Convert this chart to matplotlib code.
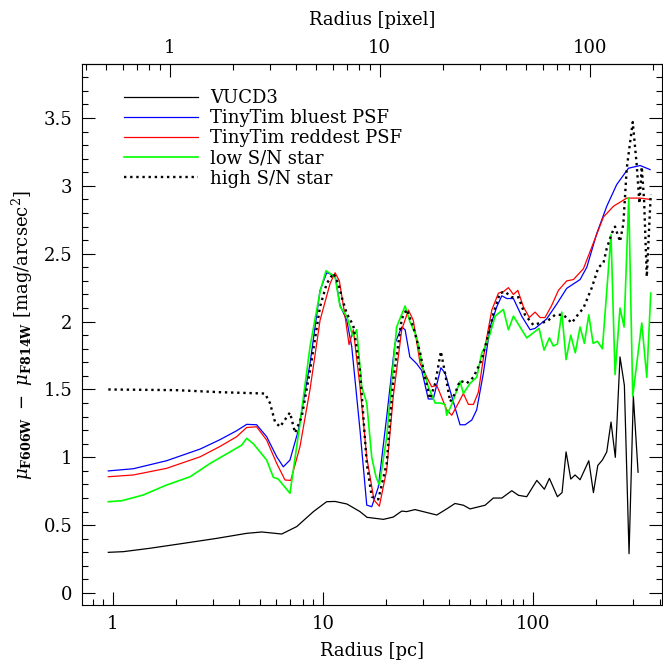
import matplotlib
matplotlib.use("Agg")
import matplotlib.pyplot as plt
from matplotlib.ticker import LogLocator, MultipleLocator, NullFormatter, FixedLocator, FixedFormatter

plt.rcParams['font.family'] = ['DejaVu Serif']
plt.rcParams['mathtext.fontset'] = 'dejavuserif'

PC_PER_PIXEL = 1.86  # scale of the top axis

# radius [pc], colour [mag/arcsec^2]
vucd3_r = [0.95, 1.12, 1.5, 2.16, 3.12, 4.33, 5.11, 6.36, 7.5, 9.0, 10.4, 11.4, 13.0, 15.0, 16.2,
           19.4, 21.6, 23.7, 25.0, 27.4, 30.0, 34.8, 38.8, 42.5, 46.6, 50.1, 59.1, 64.7, 71.0, 79.2,
           85.2, 93.3, 104.2, 113.2, 119.6, 130.6, 137.4, 143.6, 151.2, 158.5, 167.4, 184.2, 193.8,
           203.3, 213.8, 224.3, 235.0, 246.4, 259.4, 272.1, 286.4, 300.2, 316.2]
vucd3_c = [0.30, 0.305, 0.33, 0.366, 0.403, 0.44, 0.45, 0.435, 0.49, 0.60, 0.673, 0.675, 0.656, 0.60, 0.558,
           0.543, 0.56, 0.604, 0.60, 0.615, 0.60, 0.575, 0.62, 0.66, 0.647, 0.62, 0.647, 0.70, 0.70, 0.754,
           0.72, 0.71, 0.83, 0.765, 0.845, 0.71, 0.74, 1.04, 0.84, 0.87, 0.835, 0.975, 0.74,
           0.94, 0.98, 1.04, 1.26, 1.00, 1.74, 1.53, 0.29, 1.45, 0.89]

blue_r = [0.95, 1.25, 1.80, 2.60, 3.23, 3.88, 4.33, 4.83, 5.39, 6.02, 6.47, 6.96, 7.63, 8.67, 9.68,
          10.41, 11.41, 12.05, 12.97, 13.70, 15.0, 16.15, 17.06, 18.33, 20.1, 22.0, 23.7, 24.6, 25.9,
          27.9, 29.5, 31.7, 33.5, 36.4, 38.1, 41.0, 44.9, 47.5, 51.1, 53.9, 58.0, 62.4, 67.2, 71.0,
          75.0, 80.6, 88.3, 96.8, 102.2, 116.1, 129.7, 144.6, 167.4, 180.2, 201.1, 224.3, 250.2,
          284.5, 323.3, 360.7]
blue_c = [0.90, 0.916, 0.975, 1.061, 1.13, 1.196, 1.243, 1.24, 1.152, 1.004, 0.93, 0.98, 1.20, 1.69, 2.23,
          2.36, 2.34, 2.12, 2.01, 1.815, 1.20, 0.648, 0.636, 0.78, 1.30, 1.84, 1.96, 1.94, 1.74,
          1.69, 1.64, 1.43, 1.43, 1.66, 1.62, 1.45, 1.24, 1.24, 1.275, 1.35, 1.62, 1.96, 2.11, 2.19,
          2.17, 2.17, 2.04, 1.94, 1.95, 2.02, 2.13, 2.245, 2.31, 2.40, 2.65, 2.85, 3.01,
          3.13, 3.15, 3.12]

red_r = [0.95, 1.25, 1.80, 2.60, 3.23, 3.88, 4.33, 4.83, 5.39, 6.02, 6.59, 7.02, 7.77, 8.67, 9.68,
         10.8, 11.41, 11.96, 12.73, 13.30, 13.94, 15.0, 16.15, 17.49, 18.54, 20.1, 21.6, 23.7, 25.5,
         26.9, 29.0, 31.2, 32.9, 34.8, 36.1, 38.8, 41.0, 44.1, 46.6, 49.2, 52.0, 54.9, 59.1, 63.6,
         68.4, 72.2, 76.3, 80.6, 84.6, 89.9, 96.0, 102.2, 108.0, 114.0, 122.7, 132.0, 144.6, 155.7,
         173.7, 193.8, 216.2, 241.4, 279.3, 323.3, 360.7]
red_c = [0.857, 0.87, 0.919, 1.004, 1.08, 1.152, 1.22, 1.225, 1.127, 0.955, 0.833, 0.83, 1.08, 1.50, 2.01,
         2.28, 2.36, 2.30, 2.04, 1.83, 1.94, 1.52, 1.00, 0.685, 0.64, 0.906, 1.45, 1.94, 2.085,
         2.01, 1.69, 1.59, 1.52, 1.53, 1.47, 1.35, 1.31, 1.40, 1.47, 1.39, 1.39, 1.48, 1.815, 2.085,
         2.21, 2.22, 2.25, 2.20, 2.23, 2.11, 2.03, 2.07, 2.03, 2.03, 2.12, 2.23, 2.30, 2.31,
         2.39, 2.58, 2.77, 2.85, 2.91, 2.91, 2.90]

green_r = [0.95, 1.10, 1.39, 1.80, 2.33, 2.90, 3.61, 4.10, 4.33, 4.66, 5.39, 5.80, 6.12, 6.96, 7.77,
           8.67, 9.68, 10.33, 11.41, 12.05, 12.97, 13.85, 14.46, 15.29, 16.15, 17.06, 17.87, 18.54,
           20.1, 22.4, 24.6, 25.9, 27.9, 29.5, 31.7, 34.2, 36.1, 38.1, 38.8, 41.0, 44.9, 46.6, 50.1,
           53.9, 57.0, 59.1, 62.4, 65.9, 72.2, 76.3, 80.6, 93.3, 106.8, 112.8, 119.6, 124.9, 130.6,
           137.0, 143.6, 151.2, 158.8, 167.4, 175.5, 184.2, 193.1, 202.4, 213.8, 235.0, 245.6,
           259.4, 271.2, 285.4, 298.2, 329.2, 347.9, 363.3]
green_c = [0.673, 0.68, 0.722, 0.796, 0.857, 0.955, 1.04, 1.09, 1.14, 1.10, 0.98, 0.853, 0.84, 0.735, 1.25,
           1.815, 2.22, 2.375, 2.33, 2.11, 2.04, 1.894, 1.94, 1.52, 1.40, 1.00, 0.857, 0.796,
           1.15, 1.96, 2.115, 2.0, 1.89, 1.69, 1.52, 1.40, 1.40, 1.39, 1.31, 1.39, 1.56, 1.47, 1.545,
           1.59, 1.77, 1.815, 1.91, 2.04, 2.09, 1.94, 2.04, 1.88, 1.95, 1.79, 1.88, 1.82, 1.835,
           2.07, 1.72, 1.90, 1.77, 1.96, 1.84, 2.05, 1.84, 1.855, 1.80, 2.64, 1.61,
           2.10, 1.96, 2.91, 1.45, 1.99, 1.59, 2.21]

star_r = [0.95, 2.0, 3.23, 5.29, 5.59, 5.91, 6.24, 6.96, 7.36, 7.92, 8.67, 9.68, 10.41, 11.2, 11.83,
          12.28, 12.97, 13.94, 15.0, 16.15, 17.06, 18.33, 20.1, 21.6, 23.7, 25.0, 26.9, 29.0, 30.6,
          32.3, 34.2, 36.4, 38.1, 40.3, 42.5, 44.9, 48.3, 52.0, 57.0, 61.3, 64.7, 69.6, 73.5, 79.2,
          85.2, 91.5, 100.3, 108.0, 116.1, 127.3, 139.4, 152.9, 161.4, 173.7, 190.4, 204.7, 216.2,
          224.3, 237.0, 245.6, 259.4, 269.0, 279.3, 298.2, 311.7, 320.8, 329.2, 337.8, 347.9, 363.3]
star_c = [1.50, 1.495, 1.48, 1.47, 1.40, 1.26, 1.225, 1.33, 1.18, 1.30, 1.64, 2.11, 2.28, 2.356, 2.28,
          2.18, 2.06, 1.97, 1.64, 0.955, 0.71, 0.69, 0.955, 1.57, 2.02, 2.09, 1.96, 1.77, 1.59,
          1.43, 1.545, 1.78, 1.62, 1.41, 1.47, 1.565, 1.545, 1.59, 1.72, 1.91, 2.06, 2.21, 2.22, 2.18,
          2.18, 2.05, 1.975, 1.99, 2.00, 2.05, 2.05, 1.99, 2.04, 2.10, 2.25, 2.40, 2.43,
          2.54, 2.65, 2.70, 2.59, 2.72, 3.13, 3.47, 3.15, 2.87, 3.14, 2.89, 2.33, 2.94]

labels = ['VUCD3', 'TinyTim bluest PSF', 'TinyTim reddest PSF', 'low S/N star', 'high S/N star']

fig = plt.figure(figsize=(6.63, 6.69), dpi=100)
ax = fig.add_axes([82/663, 64/669, 580/663, 541/669])

lw = 0.9
ax.plot(vucd3_r, vucd3_c, color='black', lw=lw, label=labels[0])
ax.plot(blue_r, blue_c, color='#0000ff', lw=lw, label=labels[1])
ax.plot(red_r, red_c, color='#ff0000', lw=lw, label=labels[2])
ax.plot(green_r, green_c, color='#00ff00', lw=1.2, label=labels[3])
ax.plot(star_r, star_c, color='black', lw=1.7, linestyle=(0, (1, 1.6)), label=labels[4])

ax.set_xscale('log')
ax.set_xlim(0.712, 411)
ax.set_ylim(-0.088, 3.898)

ax.xaxis.set_major_locator(FixedLocator([1, 10, 100]))
ax.xaxis.set_major_formatter(FixedFormatter(['1', '10', '100']))
ax.xaxis.set_minor_locator(LogLocator(base=10, subs=range(2, 10)))
ax.xaxis.set_minor_formatter(NullFormatter())
ax.yaxis.set_major_locator(MultipleLocator(0.5))
ax.yaxis.set_minor_locator(MultipleLocator(0.1))
ax.set_yticks([0, 0.5, 1, 1.5, 2, 2.5, 3, 3.5])
ax.set_yticklabels(['0', '0.5', '1', '1.5', '2', '2.5', '3', '3.5'])

ax.tick_params(which='both', direction='in', top=False, right=True, labelsize=13, width=0.8)
ax.tick_params(which='major', length=9.3, pad=7)
ax.tick_params(which='minor', length=4.5)
for s in ax.spines.values():
    s.set_linewidth(0.8)

sec = ax.secondary_xaxis('top', functions=(lambda r: r / PC_PER_PIXEL, lambda p: p * PC_PER_PIXEL))
sec.xaxis.set_major_locator(FixedLocator([1, 10, 100]))
sec.xaxis.set_major_formatter(FixedFormatter(['1', '10', '100']))
sec.xaxis.set_minor_locator(LogLocator(base=10, subs=range(2, 10)))
sec.xaxis.set_minor_formatter(NullFormatter())
sec.tick_params(which='both', direction='in', labelsize=13, width=0.8)
sec.tick_params(which='major', length=9.3, pad=5)
sec.tick_params(which='minor', length=4.5)
sec.set_xlabel('Radius [pixel]', fontsize=13, labelpad=10)

ax.set_xlabel('Radius [pc]', fontsize=13, labelpad=7)
ax.set_ylabel(r'$\mu_{\mathbf{F606W}}\ -\ \mu_{\mathbf{F814W}}$ [mag/arcsec$^2$]', fontsize=13, labelpad=6)

ax.legend(loc='upper left', bbox_to_anchor=(0.072, 0.954), frameon=False, fontsize=13,
          handlelength=4.1, handletextpad=0.7, labelspacing=0.12, borderpad=0, borderaxespad=0)

fig.savefig('out.png', dpi=100)
